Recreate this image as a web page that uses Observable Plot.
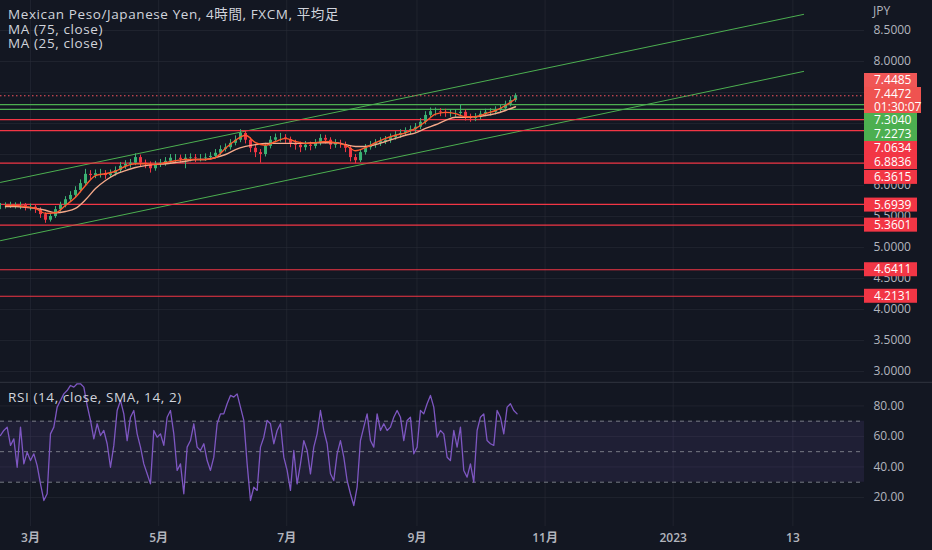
<!DOCTYPE html>
<html><head><meta charset="utf-8">
<script src="https://cdn.jsdelivr.net/npm/d3@7"></script>
<script src="https://cdn.jsdelivr.net/npm/@observablehq/plot@0.6"></script>
<style>
body{margin:0;background:#131722;}
#wrap{position:relative;width:932px;height:550px;overflow:hidden;background:#131722;font-family:"Open Sans","Noto Sans CJK JP",sans-serif;}
#wrap svg{position:absolute;left:0;}
.legend{position:absolute;left:8px;color:#d1d4dc;font-size:13.5px;line-height:14px;letter-spacing:0.6px;white-space:nowrap;}
</style></head><body><div id="wrap"></div>
<script>
// ---- axis ticks (days since 2022-01-01) ----
const tickDays = [59, 120, 181, 243, 304, 365, 422];
const tickLabels = ["3月", "5月", "7月", "9月", "11月", "2023", "13"];
const xDomain = [44.7, 456.1];
const yDomain = [2.806, 8.984];
const priceTicks = [3.0, 3.5, 4.0, 4.5, 5.0, 5.5, 6.0, 6.5, 7.0, 7.5, 8.0, 8.5];
const rsiTicks = [20, 40, 60, 80];
const rsiBands = [30, 50, 70];

// ---- candles (Heikin Ashi, coarse) ----
const candleStart = 44.7, candleStep = 2.381;
const close = [5.66,5.66,5.68,5.68,5.68,5.65,5.65,5.61,5.53,5.44, 5.50,5.61,5.68,5.77,5.84,5.92,6.03,6.18,6.16,6.19, 6.19,6.16,6.19,6.24,6.31,6.34,6.36,6.45,6.36,6.34, 6.27,6.34,6.36,6.39,6.44,6.44,6.42,6.44,6.45,6.44, 6.44,6.45,6.47,6.52,6.58,6.61,6.68,6.73,6.84,6.73, 6.60,6.53,6.50,6.63,6.73,6.77,6.77,6.74,6.68,6.65, 6.61,6.65,6.63,6.68,6.76,6.73,6.65,6.68,6.66,6.60, 6.45,6.40,6.53,6.61,6.65,6.68,6.71,6.73,6.77,6.81, 6.84,6.87,6.90,6.94,7.02,7.13,7.19,7.19,7.18,7.16, 7.16,7.16,7.18,7.10,7.08,7.10,7.15,7.18,7.18,7.21, 7.24,7.31,7.37,7.447];
const high = [5.71,5.72,5.73,5.72,5.73,5.71,5.70,5.68,5.64,5.56, 5.55,5.66,5.73,5.82,5.90,5.98,6.09,6.26,6.24,6.25, 6.26,6.24,6.25,6.30,6.37,6.40,6.42,6.51,6.49,6.41, 6.38,6.39,6.42,6.45,6.50,6.50,6.49,6.50,6.51,6.50, 6.50,6.51,6.53,6.58,6.64,6.67,6.74,6.80,6.90,6.88, 6.77,6.65,6.58,6.68,6.79,6.83,6.84,6.82,6.78,6.73, 6.70,6.71,6.70,6.74,6.82,6.81,6.77,6.74,6.73,6.70, 6.64,6.50,6.58,6.66,6.71,6.74,6.77,6.79,6.83,6.87, 6.90,6.93,6.96,7.00,7.08,7.19,7.25,7.25,7.24,7.23, 7.22,7.22,7.30,7.22,7.15,7.16,7.20,7.23,7.24,7.27, 7.30,7.36,7.43,7.48];
const low = [5.61,5.62,5.63,5.62,5.61,5.59,5.59,5.55,5.47,5.39, 5.41,5.47,5.57,5.64,5.73,5.80,5.88,5.99,6.09,6.11, 6.12,6.10,6.12,6.15,6.20,6.26,6.28,6.32,6.30,6.27, 6.20,6.23,6.29,6.31,6.35,6.37,6.36,6.27,6.38,6.37, 6.38,6.39,6.41,6.43,6.48,6.54,6.57,6.64,6.69,6.67, 6.53,6.45,6.36,6.46,6.59,6.69,6.70,6.68,6.61,6.57, 6.53,6.56,6.56,6.59,6.64,6.67,6.58,6.60,6.60,6.53, 6.38,6.35,6.37,6.49,6.57,6.60,6.63,6.66,6.68,6.73, 6.76,6.79,6.82,6.85,6.90,6.98,7.09,7.12,7.11,7.10, 7.10,7.10,7.11,7.04,7.02,7.03,7.06,7.11,7.12,7.14, 7.17,7.20,7.27,7.34];

// ---- moving averages ----
const maStart = 47.08, maStep = 4.762;
const ma25 = [5.68,5.68,5.66,5.63,5.55,5.56,5.68,5.81,6.00,6.16, 6.19,6.23,6.31,6.35,6.35,6.34,6.37,6.40,6.42,6.42, 6.42,6.45,6.60,6.73,6.81,6.69,6.65,6.71,6.76,6.71, 6.68,6.69,6.71,6.69,6.65,6.56,6.61,6.69,6.76,6.81, 6.85,6.92,7.03,7.15,7.18,7.16,7.11,7.11,7.16,7.21, 7.29,7.40];
const ma75 = [5.66,5.66,5.65,5.63,5.60,5.56,5.58,5.63,5.77,5.95, 6.08,6.18,6.24,6.29,6.32,6.34,6.35,6.37,6.39,6.42, 6.42,6.45,6.50,6.58,6.63,6.66,6.68,6.68,6.68,6.68, 6.68,6.69,6.69,6.69,6.66,6.63,6.63,6.66,6.71,6.76, 6.81,6.85,6.92,6.98,7.05,7.10,7.10,7.11,7.13,7.16, 7.21,7.27];

// ---- RSI ----
const rsiStart = 44.7, rsiStep = 1.587;
const rsi = [60.6,63.9,66.1,54.1,58.4,39.8,66.1,42.0,49.7,44.2, 48.6,40.9,28.9,18.0,22.4,61.7,66.1,79.2,83.6,87.9, 90.1,93.4,92.3,94.5,94.5,92.3,80.3,70.5,58.4,68.3, 60.6,63.9,55.2,39.8,54.1,77.0,83.6,74.8,57.3,72.6, 77.0,61.7,53.0,42.0,35.5,28.9,63.9,59.5,61.7,54.1, 72.6,77.0,61.7,37.7,42.0,22.4,53.0,57.3,68.3,53.0, 50.8,55.2,44.2,37.7,46.4,68.3,74.8,74.8,81.4,86.9, 85.8,87.9,79.2,70.5,42.0,18.0,26.7,24.6,53.0,59.5, 70.5,68.3,55.2,63.9,
 68.3,46.4,37.7,24.6,50.8,28.9,42.0,57.3,50.8,35.5, 53.0,61.7,77.0,63.9,55.2,35.5,31.1,48.6,57.3,46.4, 31.1,22.4,14.7,26.7,57.3,66.1,74.8,57.3,53.0,74.8, 63.9,68.3,63.9,66.1,72.6,77.0,72.6,57.3,70.5,72.6, 48.6,53.0,77.0,74.8,81.4,86.9,79.2,59.5,63.9,61.7, 46.4,44.2,63.9,53.0,66.1,37.7,33.3,42.0,30.0,63.9, 72.6,74.8,57.3,55.2,54.1,77.0,72.6,61.7,79.2,81.4,77.0,74.8];

// ---- drawn levels ----
const redLevels = [7.0634, 6.8836, 6.3615, 5.6939, 5.3601, 4.6411, 4.2131];
const greenLevels = [7.3040, 7.2273];
const lastPrice = 7.4472, countdown = "01:30:07", highPrice = 7.4485;
const channelUpper = [[44.7, 6.05], [427.1, 8.76]];
const channelLower = [[44.7, 5.11], [427.1, 7.84]];

const title = "Mexican Peso/Japanese Yen, 4時間, FXCM, 平均足";
const legendNames = ["MA (75, close)", "MA (25, close)"];
const rsiName = "RSI (14, close, SMA, 14, 2)";

// ---- colors ----
const UP = "#3bb273", DOWN = "#f23645", RED = "#f23645", GREEN = "#4caf50";
const BG = "#131722", TXT = "#b2b5be", GRID = "#2a2e39";
const FONT = '"Open Sans", "Noto Sans CJK JP", sans-serif';

// ---- tables ----
const candles = close.map((c, i) => ({
  day: candleStart + i * candleStep,
  open: i ? close[i - 1] : close[0], close: c, high: high[i], low: low[i]
}));
candles.forEach(d => d.color = d.close >= d.open ? UP : DOWN);
const maFast = ma25.map((v, i) => ({day: maStart + i * maStep, v}));
const maSlow = ma75.map((v, i) => ({day: maStart + i * maStep, v}));
const rsiData = rsi.map((v, i) => ({day: rsiStart + i * rsiStep, v}));
const bandData = xDomain.map(d => ({day: d, lo: rsiBands[0], hi: rsiBands[2]}));

// ---- price-scale label layout (uses the same y scale as the plot) ----
const MAIN_H = 383;
const yS = Plot.scale({y: {domain: yDomain, range: [MAIN_H, 0]}});
const LH = 14;
const labels = [
  {v: highPrice, lines: [highPrice.toFixed(4)], color: "#f05656", w: 53},
  {v: lastPrice, lines: [lastPrice.toFixed(4), countdown], color: "#ef5350", w: 57},
  ...greenLevels.map(v => ({v, lines: [v.toFixed(4)], color: GREEN, w: 53})),
  ...redLevels.map(v => ({v, lines: [v.toFixed(4)], color: RED, w: 53}))
];
labels.forEach(l => { l.h = l.lines.length === 1 ? LH : 26; l.c = yS.apply(l.v); });
labels.sort((a, b) => a.c - b.c);
let prevBottom = -Infinity;
labels.forEach(l => { l.pd = Math.max(l.c - l.h / 2, prevBottom); prevBottom = l.pd + l.h; });
const clusters = [];
labels.forEach(l => {
  clusters.push({items: [l], H: l.h, sum: l.c - l.h / 2, n: 1});
  while (clusters.length > 1) {
    const B = clusters[clusters.length - 1], A = clusters[clusters.length - 2];
    if (A.sum / A.n + A.H <= B.sum / B.n) break;
    clusters.splice(-2, 2, {items: A.items.concat(B.items), H: A.H + B.H, sum: A.sum + B.sum - B.n * A.H, n: A.n + B.n});
  }
});
clusters.forEach(cl => {
  let off = cl.sum / cl.n;
  cl.items.forEach(l => { l.ct = off; off += l.h; });
});
labels.forEach(l => { l.top = (l.pd + l.ct) / 2; });
// tick labels whose centre sits well inside a label box are hidden (as on the reference)
const visibleTicks = priceTicks.filter(t => {
  const py = yS.apply(t);
  return !labels.some(l => py > l.top + 1 && py < l.top + l.h - 1);
});

const wrap = document.getElementById("wrap");

const main = Plot.plot({
  width: 932, height: MAIN_H, marginLeft: 0, marginRight: 68, marginTop: 0, marginBottom: 0,
  style: {background: BG, color: TXT, fontSize: "12px", fontFamily: FONT, overflow: "visible"},
  color: {type: "identity"},
  x: {domain: xDomain, axis: null},
  y: {domain: yDomain, axis: null},
  marks: [
    Plot.gridX({ticks: tickDays, stroke: GRID, strokeOpacity: 0.55}),
    Plot.gridY({ticks: priceTicks, stroke: GRID, strokeOpacity: 0.55}),
    Plot.axisY({ticks: visibleTicks, anchor: "right", tickSize: 0, tickPadding: 9, tickFormat: d => d.toFixed(4), label: null, fill: TXT}),
    Plot.line(channelUpper, {stroke: GREEN, strokeWidth: 1}),
    Plot.line(channelLower, {stroke: GREEN, strokeWidth: 1}),
    Plot.ruleY(redLevels, {stroke: RED, strokeWidth: 1.2}),
    Plot.ruleY(greenLevels, {stroke: GREEN, strokeWidth: 1.2}),
    Plot.ruleY([lastPrice], {stroke: "#f7525f", strokeDasharray: "1.5,2.5", strokeWidth: 1}),
    Plot.ruleX(candles, {x: "day", y1: "low", y2: "high", stroke: "color", strokeWidth: 1}),
    Plot.ruleX(candles, {x: "day", y1: "open", y2: "close", stroke: "color", strokeWidth: 3}),
    Plot.line(maSlow, {x: "day", y: "v", stroke: "#f5a98a", strokeWidth: 1.4, curve: "monotone-x"}),
    Plot.line(maFast, {x: "day", y: "v", stroke: "#ff5a2e", strokeWidth: 1.4, curve: "monotone-x"})
  ]
});
main.style.top = "0px";
wrap.appendChild(main);

const rsiPlot = Plot.plot({
  width: 932, height: 167, marginLeft: 0, marginRight: 68, marginTop: 0, marginBottom: 24,
  style: {background: BG, color: TXT, fontSize: "12px", fontFamily: FONT, overflow: "visible"},
  x: {domain: xDomain, axis: null},
  y: {domain: [0.95, 94.7], axis: null},
  marks: [
    Plot.gridX({ticks: tickDays, stroke: GRID, strokeOpacity: 0.55}),
    Plot.gridY({ticks: rsiTicks, stroke: GRID, strokeOpacity: 0.55}),
    Plot.areaY(bandData, {x: "day", y1: "lo", y2: "hi", fill: "#7e57c2", fillOpacity: 0.12}),
    Plot.ruleY(rsiBands, {stroke: "#787b86", strokeDasharray: "4,4", strokeWidth: 1}),
    Plot.line(rsiData, {x: "day", y: "v", stroke: "#7e57c2", strokeWidth: 1.3}),
    Plot.axisY({ticks: rsiTicks, anchor: "right", tickSize: 0, tickPadding: 9, tickFormat: d => d.toFixed(2), label: null, fill: TXT}),
    Plot.axisX({ticks: tickDays, anchor: "bottom", tickSize: 0, tickPadding: 7, tickFormat: d => tickLabels[tickDays.indexOf(d)], label: null, fill: TXT, fontWeight: 600})
  ]
});
rsiPlot.style.top = "383px";
wrap.appendChild(rsiPlot);

// ---- pane separator ----
const ms = d3.select(main);
ms.append("line").attr("x1", 0).attr("x2", 932).attr("y1", 382.5).attr("y2", 382.5).attr("stroke", "#2a2e39").attr("stroke-width", 1.5);

// JPY currency label
ms.append("text").attr("x", 873).attr("y", 15).attr("text-anchor", "start").attr("fill", TXT).attr("font-size", 12).attr("font-family", FONT).text("JPY");

// ---- price label boxes ----
const lg = ms.append("g").attr("text-anchor", "start");
labels.forEach(l => {
  lg.append("rect").attr("x", 864).attr("y", l.top).attr("width", l.w).attr("height", l.h).attr("fill", l.color);
  l.lines.forEach((t, k) => {
    lg.append("text").attr("x", 874).attr("y", l.top + 7 + 12.5 * k).attr("dy", "0.35em")
      .attr("text-anchor", "start").attr("fill", "#ffffff").attr("font-size", 12).attr("font-family", FONT).text(t);
  });
});

// ---- legend texts ----
function addText(txt, top) {
  const d = document.createElement("div");
  d.className = "legend"; d.style.top = top + "px"; d.textContent = txt;
  wrap.appendChild(d);
}
addText(title, 7);
addText(legendNames[0], 22);
addText(legendNames[1], 36);
addText(rsiName, 390);
</script></body></html>
